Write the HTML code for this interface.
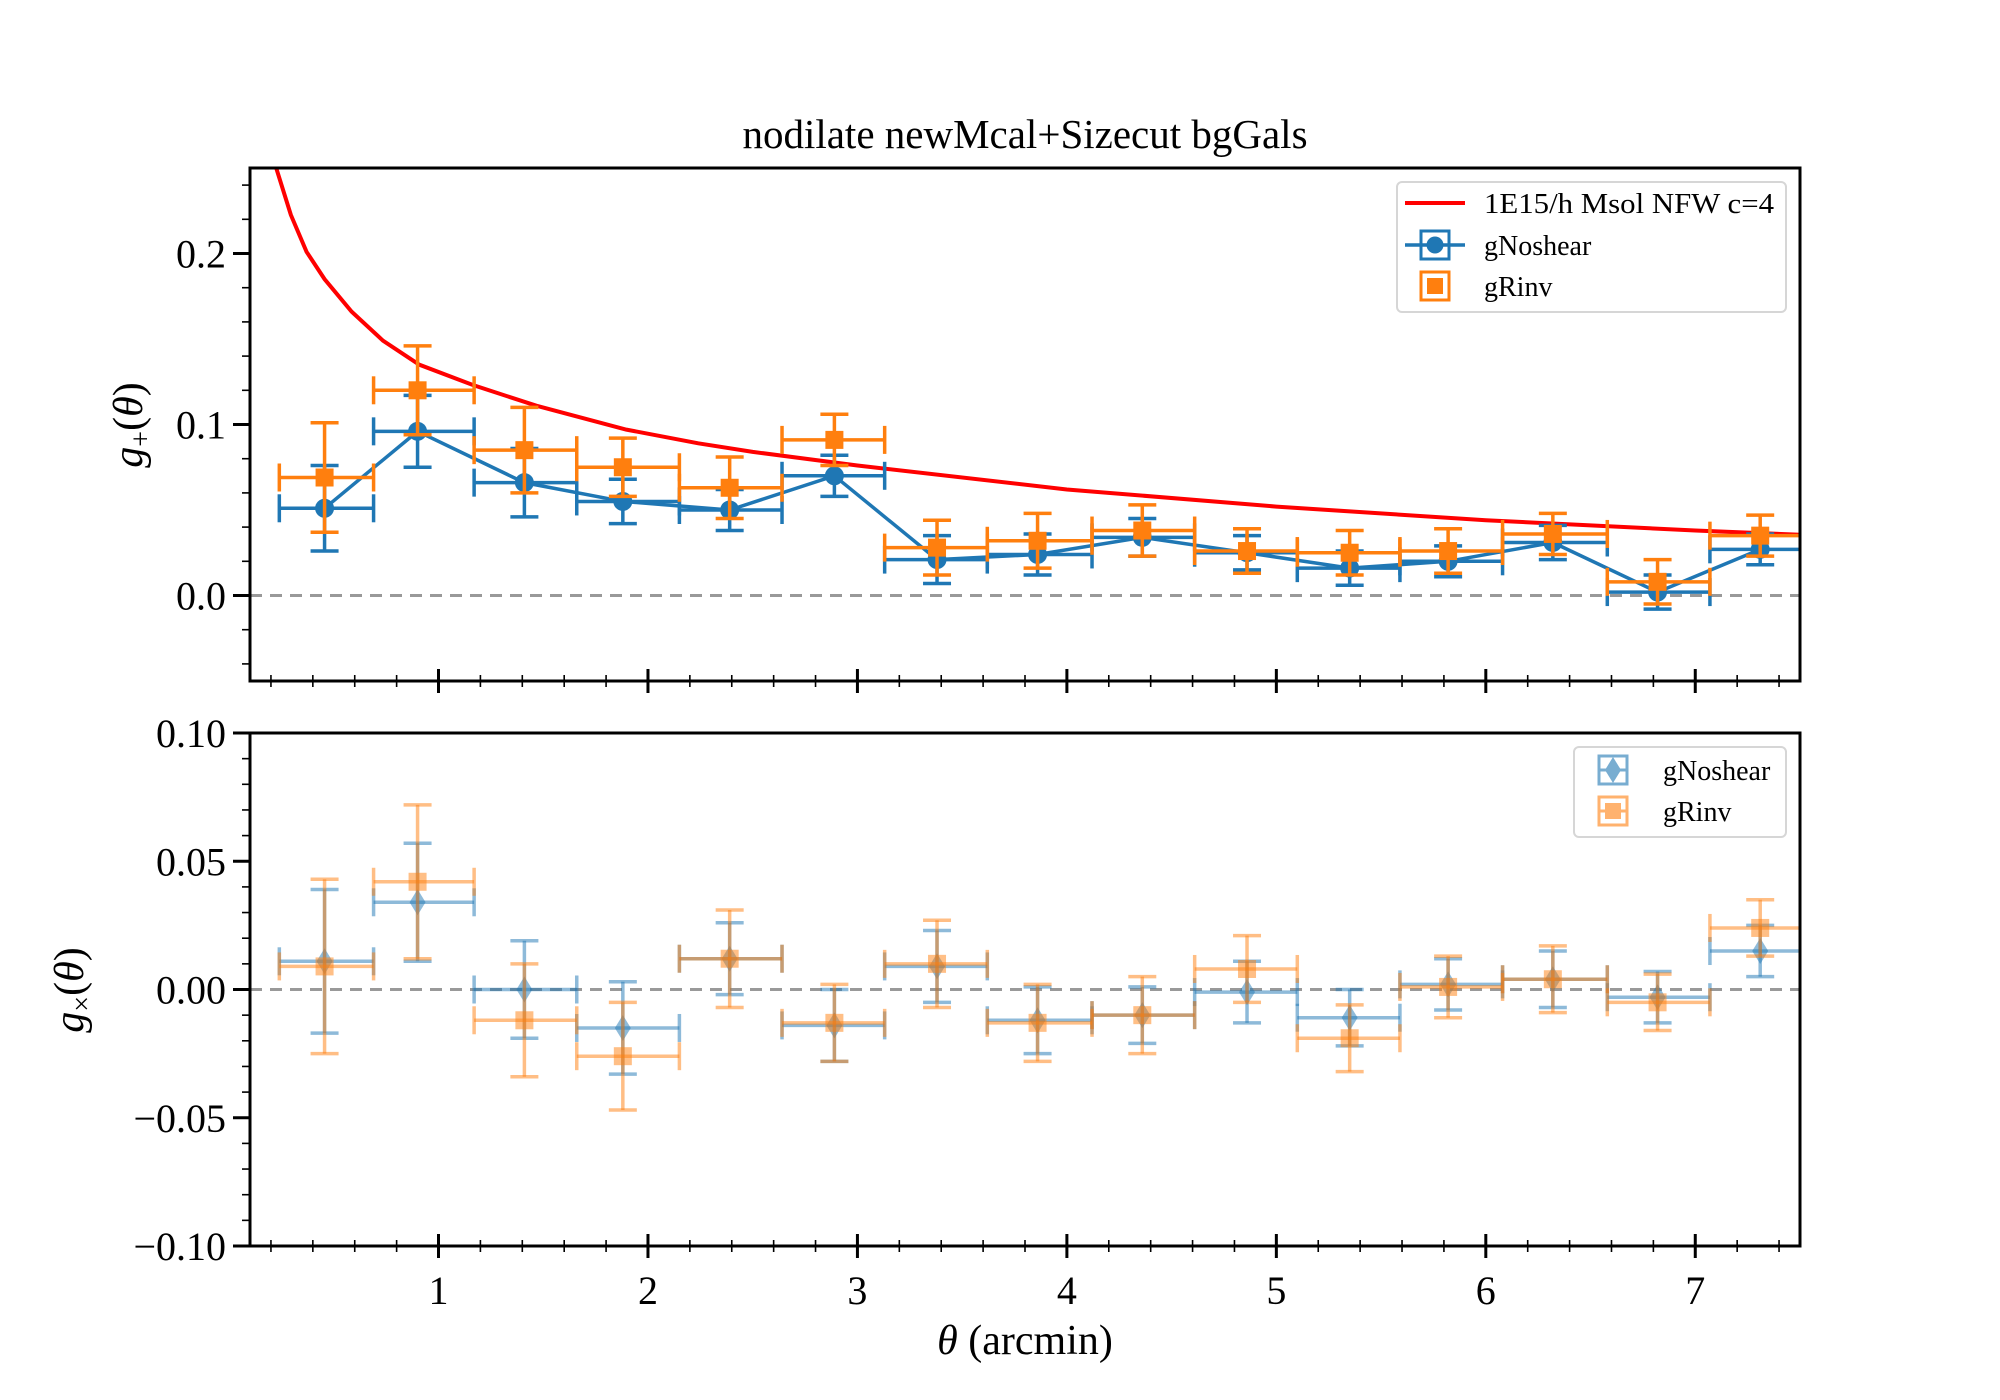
<!DOCTYPE html>
<html><head><meta charset="utf-8"><style>
html,body{margin:0;padding:0;background:#fff;}
svg{display:block;font-family:"Liberation Serif","DejaVu Serif",serif;}
</style></head><body>
<svg id="chart" width="2000" height="1400" viewBox="0 0 2000 1400" xmlns="http://www.w3.org/2000/svg"></svg>
<script>
const edges = [0.24,0.69,1.17,1.66,2.15,2.64,3.13,3.62,4.12,4.61,5.10,5.59,6.08,6.58,7.07,7.56];
const centers = [0.456,0.90,1.41,1.88,2.39,2.89,3.38,3.86,4.36,4.86,5.35,5.82,6.32,6.82,7.31];
const gtNoshear = [0.051,0.096,0.066,0.055,0.050,0.070,0.021,0.024,0.034,0.025,0.016,0.020,0.031,0.002,0.027];
const gtNoshearErr = [0.025,0.021,0.020,0.013,0.012,0.012,0.014,0.012,0.011,0.010,0.010,0.009,0.010,0.010,0.009];
const gtRinv = [0.069,0.120,0.085,0.075,0.063,0.091,0.028,0.032,0.038,0.026,0.025,0.026,0.036,0.008,0.035];
const gtRinvErr = [0.032,0.026,0.025,0.017,0.018,0.015,0.016,0.016,0.015,0.013,0.013,0.013,0.012,0.013,0.012];
const gxNoshear = [0.011,0.034,0.000,-0.015,0.012,-0.014,0.009,-0.012,-0.010,-0.001,-0.011,0.002,0.004,-0.003,0.015];
const gxNoshearErr = [0.028,0.023,0.019,0.018,0.014,0.014,0.014,0.013,0.011,0.012,0.011,0.010,0.011,0.010,0.010];
const gxRinv = [0.009,0.042,-0.012,-0.026,0.012,-0.013,0.010,-0.013,-0.010,0.008,-0.019,0.001,0.004,-0.005,0.024];
const gxRinvErr = [0.034,0.030,0.022,0.021,0.019,0.015,0.017,0.015,0.015,0.013,0.013,0.012,0.013,0.011,0.011];
const nfwTheta = [0.22,0.295,0.37,0.456,0.585,0.735,0.908,1.166,1.467,1.897,2.24,2.5,3,4,5,6,7,7.6];
const nfwG = [0.252,0.2226,0.201,0.185,0.166,0.149,0.135,0.123,0.111,0.097,0.089,0.084,0.076,0.062,0.052,0.044,0.038,0.035];
const xTicks = [1,2,3,4,5,6,7];
const topYTicks = [0.0,0.1,0.2];
const topYLabels = ["0.0","0.1","0.2"];
const botYTicks = [-0.10,-0.05,0.00,0.05,0.10];
const botYLabels = ["\u22120.10","\u22120.05","0.00","0.05","0.10"];

const NS = "http://www.w3.org/2000/svg";
const svg = document.getElementById('chart');
const L = 250, R = 1800;
const xmin = 0.1, xmax = 7.5;
const top1 = 168, bot1 = 681, top2 = 733, bot2 = 1246;
const y1min = -0.05, y1max = 0.25, y2min = -0.10, y2max = 0.10;
const BLUE = '#1f77b4', ORANGE = '#ff7f0e';
function X(v){ return L + (v - xmin) / (xmax - xmin) * (R - L); }
function Y1(v){ return bot1 - (v - y1min) / (y1max - y1min) * (bot1 - top1); }
function Y2(v){ return bot2 - (v - y2min) / (y2max - y2min) * (bot2 - top2); }
function el(tag, attrs, parent){
  const e = document.createElementNS(NS, tag);
  for (const k in attrs) e.setAttribute(k, attrs[k]);
  (parent || svg).appendChild(e);
  return e;
}
function txt(s, attrs, parent){ const t = el('text', attrs, parent); t.textContent = s; return t; }

const defs = el('defs', {});
const c1 = el('clipPath', {id:'clip1'}, defs); el('rect', {x:L, y:top1, width:R-L, height:bot1-top1}, c1);
const c2 = el('clipPath', {id:'clip2'}, defs); el('rect', {x:L, y:top2, width:R-L, height:bot2-top2}, c2);

const title = txt('nodilate newMcal+Sizecut bgGals', {x:1025, y:148, 'font-size':41, 'text-anchor':'middle'});



function drawAxes(top, bot, Yf, yt, ylab, ymin, ymax, minorStep, showXLabels, name){
  const g = el('g', {});
  
  
  for (let v = ymin; v <= ymax + 1e-9; v += minorStep){
    const y = Yf(v);
    el('line', {x1:L-8, x2:L, y1:y, y2:y, stroke:'#000', 'stroke-width':1.6}, g);
  }
  yt.forEach((v, i) => {
    const y = Yf(v);
    el('line', {x1:L-17, x2:L, y1:y, y2:y, stroke:'#000', 'stroke-width':3}, g);
    const t = txt(ylab[i], {x:L-24, y:y+14, 'font-size':40, 'text-anchor':'end'}, g);
    
    
  });
  for (let v = 0.2; v <= xmax + 1e-9; v += 0.2){
    const x = X(v);
    el('line', {x1:x, x2:x, y1:bot-6, y2:bot+6, stroke:'#000', 'stroke-width':1.6}, g);
  }
  xTicks.forEach(v => {
    const x = X(v);
    el('line', {x1:x, x2:x, y1:bot-12, y2:bot+12, stroke:'#000', 'stroke-width':3}, g);
    if (showXLabels){
      const t = txt(String(v), {x:x, y:bot+58, 'font-size':40, 'text-anchor':'middle'}, g);
      
      
    }
  });
  el('rect', {x:L, y:top, width:R-L, height:bot-top, fill:'none', stroke:'#000', 'stroke-width':3}, g);
}

function errorbar(parent, xs, ys, errs, Yf, color, opacity, marker, name){
  const g = el('g', {}, parent);
  
  
  const o = opacity;
  xs.forEach((cx, i) => {
    const x = X(cx), y = Yf(ys[i]);
    const xl = X(edges[i]), xr = X(edges[i+1]);
    const yt = Yf(ys[i] + errs[i]), yb = Yf(ys[i] - errs[i]);
    const w = 3.5;
    el('line', {x1:xl, x2:xr, y1:y, y2:y, stroke:color, 'stroke-width':w, opacity:o}, g);
    el('line', {x1:x, x2:x, y1:yt, y2:yb, stroke:color, 'stroke-width':w, opacity:o}, g);
    el('line', {x1:x-14, x2:x+14, y1:yt, y2:yt, stroke:color, 'stroke-width':w, opacity:o}, g);
    el('line', {x1:x-14, x2:x+14, y1:yb, y2:yb, stroke:color, 'stroke-width':w, opacity:o}, g);
    el('line', {x1:xl, x2:xl, y1:y-14, y2:y+14, stroke:color, 'stroke-width':w, opacity:o}, g);
    el('line', {x1:xr, x2:xr, y1:y-14, y2:y+14, stroke:color, 'stroke-width':w, opacity:o}, g);
    let m;
    if (marker === 'circle') m = el('circle', {cx:x, cy:y, r:9.5, fill:color, opacity:o}, g);
    else if (marker === 'square') m = el('rect', {x:x-9, y:y-9, width:18, height:18, fill:color, opacity:o}, g);
    else m = el('polygon', {points:`${x},${y-13} ${x+8},${y} ${x},${y+13} ${x-8},${y}`, fill:color, opacity:o}, g);
    
    
  });
  return g;
}

const p1 = el('g', {'clip-path':'url(#clip1)'});


const zero1 = el('line', {x1:L, x2:R, y1:Y1(0), y2:Y1(0), stroke:'#999', 'stroke-width':3, 'stroke-dasharray':'12,8'}, p1);


const nfw = el('polyline', {points:nfwTheta.map((t, i) => X(t) + ',' + Y1(nfwG[i])).join(' '), fill:'none', stroke:'#ff0000', 'stroke-width':4}, p1);


const ln = el('polyline', {points:centers.map((t, i) => X(t) + ',' + Y1(gtNoshear[i])).join(' '), fill:'none', stroke:BLUE, 'stroke-width':3.5}, p1);


errorbar(p1, centers, gtNoshear, gtNoshearErr, Y1, BLUE, 1, 'circle', 'gnoshear-tangential');
errorbar(p1, centers, gtRinv, gtRinvErr, Y1, ORANGE, 1, 'square', 'grinv-tangential');
drawAxes(top1, bot1, Y1, topYTicks, topYLabels, -0.04, 0.24, 0.02, false, 'top');

const p2 = el('g', {'clip-path':'url(#clip2)'});


const zero2 = el('line', {x1:L, x2:R, y1:Y2(0), y2:Y2(0), stroke:'#999', 'stroke-width':3, 'stroke-dasharray':'12,8'}, p2);


errorbar(p2, centers, gxNoshear, gxNoshearErr, Y2, BLUE, 0.5, 'diamond', 'gnoshear-cross');
errorbar(p2, centers, gxRinv, gxRinvErr, Y2, ORANGE, 0.5, 'square', 'grinv-cross');
drawAxes(top2, bot2, Y2, botYTicks, botYLabels, -0.10, 0.10, 0.01, true, 'bottom');

const yl1 = el('text', {x:0, y:0, 'font-size':42, 'font-style':'italic', transform:'translate(142,425) rotate(-90)', 'text-anchor':'middle'});
yl1.innerHTML = 'g<tspan font-size="28" dy="8" font-style="normal">+</tspan><tspan dy="-8" font-style="normal">(</tspan>θ<tspan font-style="normal">)</tspan>';


const yl2 = el('text', {x:0, y:0, 'font-size':42, 'font-style':'italic', transform:'translate(83,990) rotate(-90)', 'text-anchor':'middle'});
yl2.innerHTML = 'g<tspan font-size="28" dy="8" font-style="normal">×</tspan><tspan dy="-8" font-style="normal">(</tspan>θ<tspan font-style="normal">)</tspan>';


const xl = el('text', {x:1025, y:1354, 'font-size':42, 'text-anchor':'middle'});
xl.innerHTML = '<tspan font-style="italic">θ</tspan> (arcmin)';



const lg1 = el('g', {});


el('rect', {x:1397, y:182, width:389, height:130, rx:5, fill:'#fff', 'fill-opacity':0.8, stroke:'#d6d6d6', 'stroke-width':2}, lg1);
el('line', {x1:1405, x2:1465, y1:203, y2:203, stroke:'#ff0000', 'stroke-width':4}, lg1);
const le1 = txt('1E15/h Msol NFW c=4', {x:1484, y:213, 'font-size':28, textLength:290, lengthAdjust:'spacingAndGlyphs'}, lg1);


el('line', {x1:1405, x2:1465, y1:245, y2:245, stroke:BLUE, 'stroke-width':3.5}, lg1);
el('rect', {x:1421, y:231, width:28, height:28, fill:'none', stroke:BLUE, 'stroke-width':3}, lg1);
el('circle', {cx:1435, cy:245, r:8.5, fill:BLUE}, lg1);
const le2 = txt('gNoshear', {x:1484, y:255, 'font-size':28}, lg1);


el('rect', {x:1421, y:272, width:28, height:28, fill:'none', stroke:ORANGE, 'stroke-width':3}, lg1);
el('rect', {x:1427, y:278, width:16, height:16, fill:ORANGE}, lg1);
const le3 = txt('gRinv', {x:1484, y:296, 'font-size':28}, lg1);



const lg2 = el('g', {});


el('rect', {x:1574, y:747, width:212, height:90, rx:5, fill:'#fff', 'fill-opacity':0.8, stroke:'#d6d6d6', 'stroke-width':2}, lg2);
const m1 = el('g', {opacity:0.6}, lg2);
el('rect', {x:1599, y:756, width:28, height:28, fill:'none', stroke:BLUE, 'stroke-width':3}, m1);
el('line', {x1:1599, x2:1627, y1:770, y2:770, stroke:BLUE, 'stroke-width':3}, m1);
el('polygon', {points:'1613,757 1621,770 1613,783 1605,770', fill:BLUE}, m1);
const le4 = txt('gNoshear', {x:1663, y:780, 'font-size':28}, lg2);


const m2 = el('g', {opacity:0.6}, lg2);
el('rect', {x:1599, y:797, width:28, height:28, fill:'none', stroke:ORANGE, 'stroke-width':3}, m2);
el('line', {x1:1599, x2:1627, y1:811, y2:811, stroke:ORANGE, 'stroke-width':3}, m2);
el('rect', {x:1605, y:803, width:16, height:16, fill:ORANGE}, m2);
const le5 = txt('gRinv', {x:1663, y:821, 'font-size':28}, lg2);


</script>
</body></html>
